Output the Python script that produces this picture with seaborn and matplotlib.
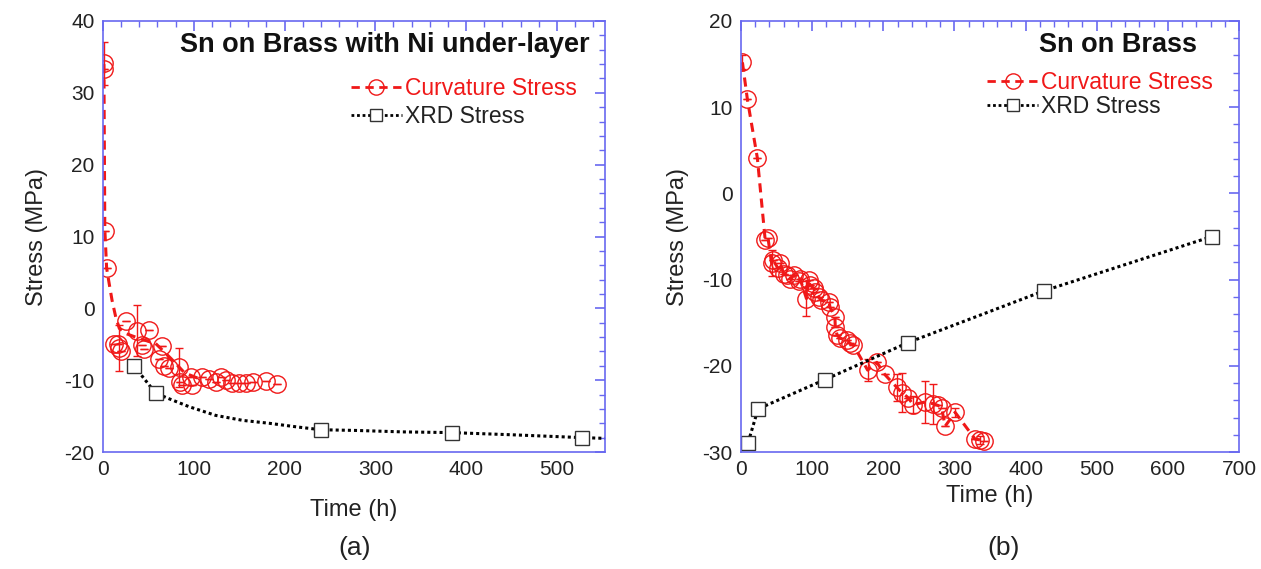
import matplotlib
matplotlib.use("Agg")
import matplotlib.pyplot as plt
import seaborn as sns
import pandas as pd
from matplotlib.lines import Line2D
from matplotlib.ticker import MultipleLocator

# (a) Sn on Brass with Ni under-layer
a_curv_t = [1, 1.5, 2, 4, 12, 16, 18, 20, 25, 38, 43, 45, 51, 62, 65, 67, 73, 84, 85, 87,
            97, 97.5, 109, 117, 124, 130, 135, 142, 150, 157, 165, 180, 192]
a_curv_s = [34.1, 33.3, 10.7, 5.6, -4.9, -5.0, -5.5, -5.9, -1.7, -3.1, -5.1, -5.6, -3.0,
            -7.0, -5.2, -8.0, -8.3, -8.2, -10.3, -10.7, -9.5, -10.7, -9.6, -9.8, -10.2,
            -9.6, -10.0, -10.4, -10.4, -10.4, -10.2, -10.1, -10.6]
a_curv_err = [3.0, 0, 0, 0, 0, 0, 3.2, 0, 0, 3.5, 0, 0, 0, 0, 0, 0, 0, 2.7, 0, 0,
              0, 0, 0, 0, 0, 0, 0, 0, 0, 0, 0, 0, 0]
a_curv_fit_t = [1, 2, 4, 7, 10, 14, 18, 25, 40, 58, 75, 90, 110]
a_curv_fit_s = [34.0, 11.0, 5.6, 3.3, 1.1, -1.2, -2.8, -3.5, -4.2, -4.9, -7.0, -9.0, -10.0]

a_xrd_t = [34, 58, 240, 384, 528]
a_xrd_s = [-8.0, -11.8, -16.9, -17.3, -18.0]
a_xrd_fit_t = [34, 58, 73, 95, 124, 154, 183, 213, 240, 279, 330, 384, 450, 528, 553]
a_xrd_fit_s = [-8.0, -11.8, -12.6, -13.7, -14.9, -15.6, -16.0, -16.5, -16.9, -17.0,
               -17.2, -17.3, -17.6, -18.0, -18.1]

# (b) Sn on Brass
b_curv_t = [2, 9, 23, 34, 38, 43, 45, 52, 55, 60, 64, 69, 74, 81, 83, 92, 95, 97, 102,
            104, 109, 113, 124, 125, 132, 132.5, 135, 139, 149, 153, 158, 178, 191, 202,
            219, 226, 235, 242, 259, 270, 277, 282, 287, 301, 329, 336, 341]
b_curv_s = [15.2, 10.9, 4.1, -5.4, -5.2, -8.1, -7.7, -8.7, -8.1, -9.3, -9.5, -9.9, -9.5,
            -10.2, -9.9, -12.2, -10.0, -10.6, -11.0, -11.4, -12.0, -12.4, -12.6, -13.2,
            -14.3, -15.5, -16.4, -16.8, -17.0, -17.4, -17.6, -20.5, -19.6, -21.0, -22.5,
            -23.1, -23.7, -24.5, -24.2, -24.4, -24.6, -24.9, -27.0, -25.4, -28.5, -28.6,
            -28.7]
b_curv_err = [0.8, 0, 0, 0, 0, 1.5, 0, 0, 0, 0, 0, 0, 0, 0, 0, 2.0, 0, 0, 0,
              0, 0, 0, 0, 0, 0, 0, 0, 0, 0, 0, 0, 1.3, 0, 0,
              1.6, 2.3, 0, 1.0, 2.4, 2.3, 0, 0, 0, 0.5, 0, 0.5, 0]

b_xrd_t = [10, 24, 118, 235, 426, 662]
b_xrd_s = [-28.9, -25.0, -21.6, -17.3, -11.3, -5.0]

titles = ["Sn on Brass with Ni under-layer", "Sn on Brass"]
panel_tags = ["(a)", "(b)"]

RED = "#f01818"
BLUE = "#6868f0"
TXT = "#222222"

sns.set_style("white")
plt.rcParams["font.family"] = ["Liberation Sans", "DejaVu Sans"]
plt.rcParams["axes.unicode_minus"] = False

fig = plt.figure(figsize=(12.61, 5.69), dpi=100)
ax_a = fig.add_axes([103 / 1261, 117 / 569, 502 / 1261, 431 / 569])
ax_b = fig.add_axes([741 / 1261, 117 / 569, 498 / 1261, 431 / 569])


def style_axis(ax, xmax, ymin, ymax, ymajor):
    ax.set_xlim(0, xmax)
    ax.set_ylim(ymin, ymax)
    ax.xaxis.set_major_locator(MultipleLocator(100))
    ax.xaxis.set_minor_locator(MultipleLocator(20))
    ax.yaxis.set_major_locator(MultipleLocator(ymajor))
    ax.yaxis.set_minor_locator(MultipleLocator(ymajor / 5))
    for sp in ax.spines.values():
        sp.set_color(BLUE)
        sp.set_linewidth(1.2)
    ax.tick_params(which="both", direction="in", top=True, right=True,
                   color=BLUE, labelsize=15, labelcolor=TXT, pad=6)
    ax.tick_params(which="major", length=7, width=1.2)
    ax.tick_params(which="minor", length=4, width=1.0)
    ax.set_ylabel("Stress (MPa)", fontsize=17, color=TXT)


def curvature(ax, t, s, err, fit_t=None, fit_s=None):
    df = pd.DataFrame({"t": t, "s": s})
    if fit_t is not None:
        sns.lineplot(x=fit_t, y=fit_s, ax=ax, color=RED, linestyle=(0, (3, 2)),
                     linewidth=2.2, sort=False)
    else:
        sns.lineplot(data=df, x="t", y="s", ax=ax, color=RED, linestyle=(0, (3, 2)),
                     linewidth=2.2, estimator=None)
    ax.errorbar(t, s, yerr=err, fmt="none", ecolor=RED, elinewidth=1, capsize=3)
    ax.plot(df["t"], df["s"], linestyle="none", marker="o", markersize=12.5,
            markerfacecolor="none", markeredgecolor=RED, markeredgewidth=1)


def xrd(ax, t, s, fit_t=None, fit_s=None):
    lt = fit_t if fit_t is not None else t
    ls = fit_s if fit_s is not None else s
    sns.lineplot(x=lt, y=ls, ax=ax, color="black", linestyle=(0, (1, 1)),
                 linewidth=2.2, sort=False)
    ax.plot(t, s, linestyle="none", marker="s", markersize=10,
            markerfacecolor="white", markeredgecolor="#333333", markeredgewidth=1)


def add_legend(ax, bbox, spacing):
    handles = [
        Line2D([], [], color=RED, linestyle=(0, (3, 2)), linewidth=2, marker="o",
               markersize=11, markerfacecolor="none", markeredgecolor=RED),
        Line2D([], [], color="black", linestyle=(0, (1, 1)), linewidth=2, marker="s",
               markersize=8, markerfacecolor="white", markeredgecolor="#333333"),
    ]
    leg = ax.legend(handles, ["Curvature Stress", "XRD Stress"], loc="upper right",
                    bbox_to_anchor=bbox, frameon=False, fontsize=16.5, handlelength=2.2,
                    handletextpad=0.15, labelspacing=spacing, borderaxespad=0,
                    borderpad=0)
    leg.get_texts()[0].set_color(RED)
    leg.get_texts()[1].set_color(TXT)


# panel (a)
style_axis(ax_a, 553, -20, 40, 10)
curvature(ax_a, a_curv_t, a_curv_s, a_curv_err, a_curv_fit_t, a_curv_fit_s)
xrd(ax_a, a_xrd_t, a_xrd_s, a_xrd_fit_t, a_xrd_fit_s)
ax_a.text(0.970, 0.944, titles[0], transform=ax_a.transAxes, ha="right", va="center",
          fontsize=19.5, fontweight="bold", color="#111111")
add_legend(ax_a, (0.944, 0.87), 0.2)
ax_a.set_xlabel("Time (h)", fontsize=17, color=TXT, labelpad=14)
ax_a.yaxis.labelpad = 12

# panel (b)
style_axis(ax_b, 700, -30, 20, 10)
curvature(ax_b, b_curv_t, b_curv_s, b_curv_err)
xrd(ax_b, b_xrd_t, b_xrd_s)
ax_b.text(0.757, 0.944, titles[1], transform=ax_b.transAxes, ha="center", va="center",
          fontsize=19.5, fontweight="bold", color="#111111")
add_legend(ax_b, (0.948, 0.884), 0.05)
ax_b.set_xlabel("Time (h)", fontsize=17, color=TXT, labelpad=4)
ax_b.yaxis.labelpad = 10

fig.text(355 / 1261, 1 - 548 / 569, panel_tags[0], ha="center", va="center",
         fontsize=19, color=TXT)
fig.text(1004 / 1261, 1 - 548 / 569, panel_tags[1], ha="center", va="center",
         fontsize=19, color=TXT)

fig.savefig("out.png", dpi=100)
